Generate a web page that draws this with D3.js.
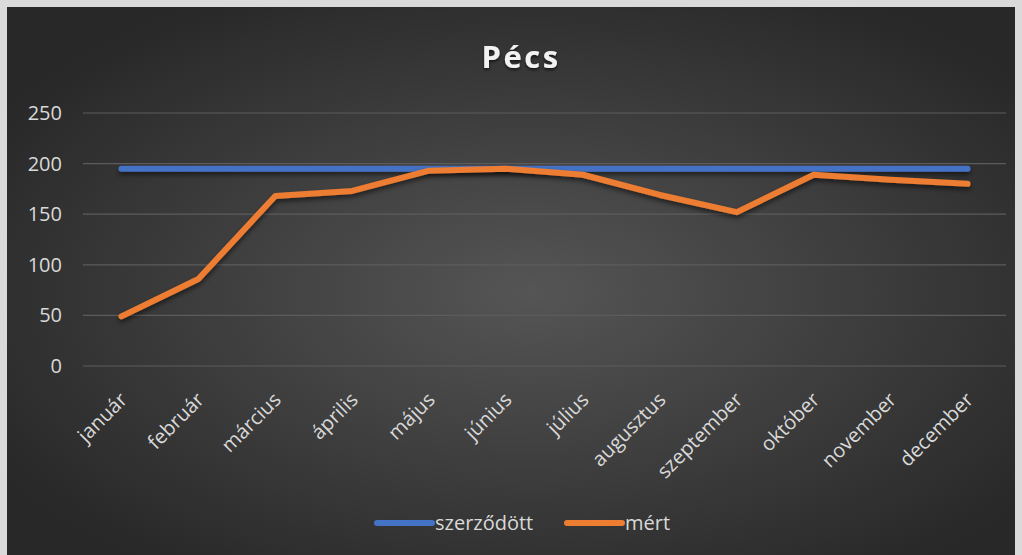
<!DOCTYPE html>
<html>
<head>
<meta charset="utf-8">
<script src="https://cdn.jsdelivr.net/npm/d3@7"></script>
<style>
  html, body { margin: 0; padding: 0; background: #dadada; }
  svg { display: block; font-family: "Open Sans", "Noto Sans", sans-serif; }
</style>
</head>
<body>
<div id="chart"></div>
<script>
// chart data
const months = ['január', 'február', 'március', 'április', 'május', 'június',
                'július', 'augusztus', 'szeptember', 'október', 'november', 'december'];
const szerzodott = [195, 195, 195, 195, 195, 195, 195, 195, 195, 195, 195, 195];
const mert = [49, 86, 168, 173, 193, 195, 189, 169, 152, 189, 184, 180];
const yTicks = [0, 50, 100, 150, 200, 250];
const seriesNames = ['szerződött', 'mért'];
const seriesColors = ['#4472c4', '#ed7d31'];

const width = 1022, height = 555;
const margin = {top: 113, right: 16, bottom: 189, left: 83};

const svg = d3.select('#chart').append('svg')
    .attr('width', width)
    .attr('height', height);

let defs = svg.append('defs');
let grad = defs.append('radialGradient')
    .attr('id', 'bg')
    .attr('cx', '52%').attr('cy', '52%').attr('r', '62%');
grad.append('stop').attr('offset', '0%').attr('stop-color', '#555555');
grad.append('stop').attr('offset', '100%').attr('stop-color', '#282828');

// user space units, otherwise a flat horizontal line has an empty filter box
let shadow = defs.append('filter').attr('id', 'shadow')
    .attr('filterUnits', 'userSpaceOnUse')
    .attr('x', 0).attr('y', 0).attr('width', width).attr('height', height);
shadow.append('feDropShadow')
    .attr('dx', 0).attr('dy', 3).attr('stdDeviation', 2.5)
    .attr('flood-color', '#000').attr('flood-opacity', 0.55);

let tshadow = defs.append('filter').attr('id', 'tshadow');
tshadow.append('feDropShadow')
    .attr('dx', 0).attr('dy', 2).attr('stdDeviation', 1.5)
    .attr('flood-color', '#000').attr('flood-opacity', 0.6);

svg.append('rect')
    .attr('x', 7).attr('y', 7)
    .attr('width', width - 14).attr('height', height - 7)
    .attr('fill', 'url(#bg)');

svg.append('text')
    .text('Pécs')
    .attr('x', 521).attr('y', 68)
    .attr('text-anchor', 'middle')
    .attr('fill', '#f2f2f2')
    .attr('font-size', 31)
    .attr('font-weight', 'bold')
    .attr('letter-spacing', 2.5)
    .attr('filter', 'url(#tshadow)');

const x = d3.scaleBand()
    .domain(months)
    .range([margin.left, width - margin.right]);

const y = d3.scaleLinear()
    .domain([0, 250])
    .range([height - margin.bottom, margin.top]);

// gridlines
svg.append('g')
    .selectAll('line')
    .data(yTicks)
    .enter().append('line')
    .attr('x1', margin.left)
    .attr('x2', width - margin.right)
    .attr('y1', d => y(d))
    .attr('y2', d => y(d))
    .attr('stroke', '#5c5c5c')
    .attr('stroke-width', 1.2);

// y axis labels
const yAxis = svg.append('g')
    .attr('transform', `translate(${margin.left - 21},0)`)
    .call(d3.axisLeft(y).tickValues(yTicks).tickSize(0).tickPadding(0));
yAxis.select('.domain').remove();
yAxis.selectAll('text')
    .attr('fill', '#d9d9d9')
    .attr('font-size', 20)
    .attr('font-family', '"Open Sans", sans-serif');

// x axis labels
const xAxis = svg.append('g')
    .attr('transform', `translate(0,${y(0) + 35})`)
    .call(d3.axisBottom(x).tickSize(0).tickPadding(0));
xAxis.select('.domain').remove();
xAxis.selectAll('text')
    .attr('fill', '#d9d9d9')
    .attr('font-size', 20)
    .attr('font-family', '"Open Sans", sans-serif')
    .attr('text-anchor', 'end')
    .attr('dy', 0)
    .attr('transform', 'translate(7,0) rotate(-45)');

// lines
const line = d3.line()
    .x((d, i) => x(months[i]) + x.bandwidth() / 2)
    .y(d => y(d));

[szerzodott, mert].forEach((series, k) => {
    svg.append('path')
        .datum(series)
        .attr('d', line)
        .attr('fill', 'none')
        .attr('stroke', seriesColors[k])
        .attr('stroke-width', 6)
        .attr('stroke-linecap', 'round')
        .attr('stroke-linejoin', 'round')
        .attr('filter', 'url(#shadow)');
});

// legend
const legendX = [377, 567];
const legend = svg.append('g');
seriesNames.forEach((name, k) => {
    legend.append('line')
        .attr('x1', legendX[k]).attr('x2', legendX[k] + 55)
        .attr('y1', 523).attr('y2', 523)
        .attr('stroke', seriesColors[k])
        .attr('stroke-width', 6)
        .attr('stroke-linecap', 'round');
    legend.append('text')
        .text(name)
        .attr('x', legendX[k] + 58)
        .attr('y', 530)
        .attr('fill', '#d9d9d9')
        .attr('font-size', 20);
});
</script>
</body>
</html>
